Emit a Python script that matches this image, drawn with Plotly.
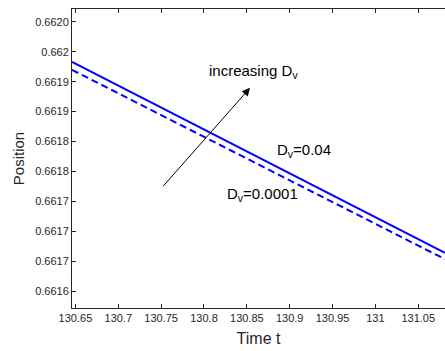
import plotly.graph_objects as go

# ---- data ----
time_t = [130.646, 131.0812]
pos_dv_004 = [0.6619365, 0.6616814]
pos_dv_00001 = [0.6619258, 0.661673]

x_tick_vals = [130.65, 130.7, 130.75, 130.8, 130.85, 130.9, 130.95, 131.0, 131.05]
x_tick_text = ["130.65", "130.7", "130.75", "130.8", "130.85", "130.9", "130.95", "131", "131.05"]
y_tick_vals = [0.66199 - k * 0.00004 for k in range(10)]
y_tick_text = ["0.6620", "0.662", "0.6619", "0.6619", "0.6618", "0.6618",
               "0.6617", "0.6617", "0.6617", "0.6616"]

x_range = [130.646, 131.0812]
y_range = [0.6616078, 0.662007]

arrow_tail = (130.7507, 0.6617683)
arrow_head = (130.8537, 0.6619017)

AX = "#262626"
FONT = "Liberation Sans, Arial, sans-serif"

fig = go.Figure()
fig.add_trace(go.Scatter(x=time_t, y=pos_dv_004, mode="lines",
                         line=dict(color="#0000FF", width=2), showlegend=False))
fig.add_trace(go.Scatter(x=time_t, y=pos_dv_00001, mode="lines",
                         line=dict(color="#0000FF", width=2, dash="7px,4px"), showlegend=False))

fig.add_annotation(x=arrow_head[0], y=arrow_head[1], ax=arrow_tail[0], ay=arrow_tail[1],
                   xref="x", yref="y", axref="x", ayref="y", text="",
                   showarrow=True, arrowhead=2, arrowsize=1.6, arrowwidth=1, arrowcolor="black")

fig.add_annotation(x=130.8035, y=0.6619231, xref="x", yref="y", text="increasing D<sub>v</sub>",
                   showarrow=False, xanchor="left", yanchor="middle",
                   font=dict(family=FONT, size=15, color="black"))
fig.add_annotation(x=130.8829, y=0.6618178, xref="x", yref="y", text="D<sub>v</sub>=0.04",
                   showarrow=False, xanchor="left", yanchor="middle",
                   font=dict(family=FONT, size=15, color="black"))
fig.add_annotation(x=130.8245, y=0.66176, xref="x", yref="y", text="D<sub>v</sub>=0.0001",
                   showarrow=False, xanchor="left", yanchor="middle",
                   font=dict(family=FONT, size=15, color="black"))

fig.update_layout(
    width=445, height=351,
    margin=dict(l=72, r=0, t=9, b=43),
    paper_bgcolor="white", plot_bgcolor="white",
    font=dict(family=FONT, color=AX),
    xaxis=dict(range=x_range, tickvals=x_tick_vals, ticktext=x_tick_text,
               showline=True, linecolor=AX, linewidth=1, mirror="ticks",
               ticks="inside", ticklen=4, tickcolor=AX, showgrid=False, zeroline=False,
               tickfont=dict(size=11, color=AX),
               title=dict(text="Time t", font=dict(size=16, color=AX), standoff=9)),
    yaxis=dict(range=y_range, tickvals=y_tick_vals, ticktext=y_tick_text,
               showline=True, linecolor=AX, linewidth=1, mirror=False,
               ticks="inside", ticklen=4, tickcolor=AX, showgrid=False, zeroline=False,
               tickfont=dict(size=11, color=AX),
               title=dict(text="Position", font=dict(size=15, color=AX), standoff=6)),
)

fig.write_html("out.html")
